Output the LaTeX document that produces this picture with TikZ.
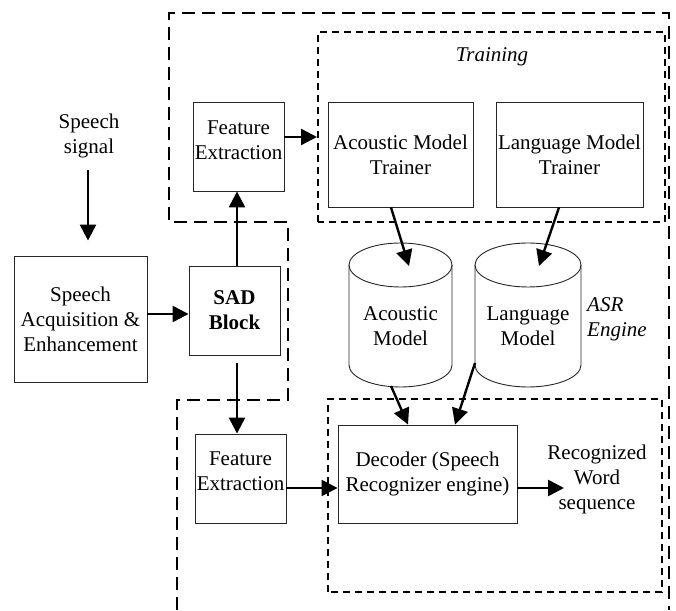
\documentclass[tikz,border=0pt]{standalone}
\usepackage{fontspec}
\setmainfont{Liberation Serif}
\newfontfamily\tnr{Liberation Serif}
\usetikzlibrary{arrows.meta}
\begin{document}
\begin{tikzpicture}[x=1pt,y=1pt,
  box/.style={draw=black!85, line width=0.9pt, inner sep=0pt},
  txt/.style={align=center, inner sep=0pt, font=\tnr\fontsize{21}{25}\selectfont},
  btxt/.style={align=center, inner sep=0pt, font=\tnr\fontsize{21}{25}\selectfont\bfseries},
  itxt/.style={align=left, inner sep=0pt, font=\tnr\fontsize{21}{25}\selectfont\itshape},
  arr/.style={line width=2.4pt, -{Triangle[length=16pt,width=16pt]}},
  outerdash/.style={line width=2pt, dash pattern=on 13pt off 7pt},
  innerdash/.style={line width=1.8pt, dash pattern=on 7pt off 5pt},
  cyl/.style={draw=black!85, line width=0.9pt}]
\useasboundingbox (0,0) rectangle (676,610);

% dashed frames
\draw[outerdash] (177,0) -- (177,210) -- (288,210) -- (288,388) -- (169,388) -- (169,597) -- (669,597) -- (669,0);
\draw[innerdash] (318,388) rectangle (665,578);
\draw[innerdash] (328,18) rectangle (662,211);

% boxes
\node[box, txt, minimum width=133pt, minimum height=126pt] (acq) at (80.5,291) {Speech\\Acquisition \&\\Enhancement};
\node[box, btxt, minimum width=91pt, minimum height=89pt] (sad) at (234.5,299.5) {SAD\\Block};
\node[box, minimum width=91pt, minimum height=89pt] (fe1) at (238.5,463.5) {};
\node[txt] (fe1t) at (238.5,470) {Feature\\Extraction};
\node[box, minimum width=91pt, minimum height=89pt] (fe2) at (240.5,131.5) {};
\node[txt] (fe2t) at (240.5,139) {Feature\\Extraction};
\node[box, txt, minimum width=145pt, minimum height=105pt] (amt) at (400.5,455.5) {Acoustic Model\\Trainer};
\node[box, txt, minimum width=147pt, minimum height=105pt] (lmt) at (569.5,455.5) {Language Model\\Trainer};
\node[box, txt, minimum width=179pt, minimum height=98pt] (dec) at (427.5,136) {Decoder (Speech\\Recognizer engine)};

% cylinders
\draw[cyl] (349,345) -- (349,245) arc[start angle=180,end angle=360,x radius=51.5,y radius=22] -- (452,345);
\draw[cyl] (400.5,345) ellipse[x radius=51.5,y radius=22];
\node[txt] (am) at (400.5,283.5) {Acoustic\\Model};
\draw[cyl] (475,345) -- (475,245) arc[start angle=180,end angle=360,x radius=53,y radius=22] -- (581,345);
\draw[cyl] (528,345) ellipse[x radius=53,y radius=22];
\node[txt] (lm) at (528,283.5) {Language\\Model};

% texts
\node[txt] (sig) at (89,474) {Speech\\signal};
\node[itxt, anchor=west] (asr) at (587,291) {ASR\\Engine};
\node[itxt] (train) at (492,553) {Training};
\node[txt] (rec) at (597,131) {Recognized\\Word\\sequence};

% coordinates
\coordinate (sigout) at (88,440);
\coordinate (hy) at (0,296);
\coordinate (vx) at (237,0);
\coordinate (trainin) at (317,473);
\coordinate (dy) at (0,122);
\coordinate (recin) at (564,122);
\coordinate (amtop) at (409,344);
\coordinate (lmtop) at (539,344);
\coordinate (ambot) at (391,224);
\coordinate (lmbot) at (475,247);

% arrows
\draw[arr, shorten >=15pt] (sigout) -- (acq.north -| sigout);
\draw[arr] (acq.east |- hy) -- (sad.west |- hy);
\draw[arr] (sad.north -| vx) -- (fe1.south -| vx);
\draw[arr, shorten <=8pt] (sad.south -| vx) -- (fe2.north -| vx);
\draw[arr] (fe1.east |- trainin) -- (trainin);
\draw[arr] ([xshift=-9.5pt]amt.south) -- (amtop);
\draw[arr] ([xshift=-10.5pt]lmt.south) -- (lmtop);
\draw[arr] (ambot) -- ([xshift=-19.5pt]dec.north);
\draw[arr] (lmbot) -- ([xshift=27.5pt]dec.north);
\draw[arr] (fe2.east |- dy) -- (dec.west |- dy);
\draw[arr] (dec.east |- dy) -- (recin);
\end{tikzpicture}
\end{document}
